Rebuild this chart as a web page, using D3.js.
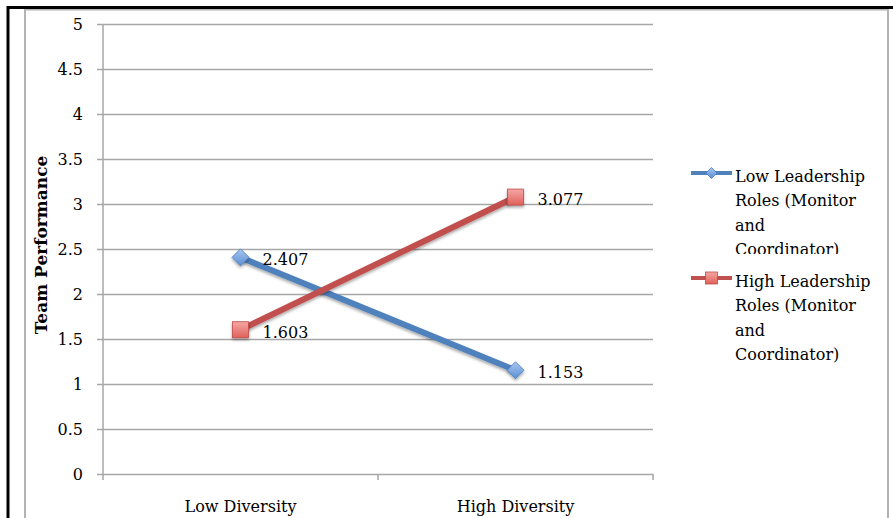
<!DOCTYPE html>
<html>
<head>
<meta charset="utf-8">
<script src="https://cdn.jsdelivr.net/npm/d3@7"></script>
<style>
  html, body { margin: 0; padding: 0; background: #fff; }
  svg { display: block; }
  text { font-family: "DejaVu Serif", "Liberation Serif", serif; fill: #000; }
</style>
</head>
<body>
<svg id="chart" width="893" height="518"></svg>
<script>
// Data
const categories = ["Low Diversity", "High Diversity"];
const lowLeadership = [2.407, 1.153];
const highLeadership = [1.603, 3.077];
const seriesNames = [
  ["Low Leadership", "Roles (Monitor", "and", "Coordinator)"],
  ["High Leadership", "Roles (Monitor", "and", "Coordinator)"]
];
const yTicks = [0, 0.5, 1, 1.5, 2, 2.5, 3, 3.5, 4, 4.5, 5];
const yTitle = "Team Performance";

const svg = d3.select("#chart");
const W = 893, H = 518;

// Frame
svg.append("rect").attr("x", 25).attr("y", 9.5).attr("width", 863).attr("height", 520)
  .attr("fill", "#fff").attr("stroke", "#b3b3b3").attr("stroke-width", 2);
svg.append("line").attr("x1", 7).attr("x2", W).attr("y1", 7.5).attr("y2", 7.5)
  .attr("stroke", "#000").attr("stroke-width", 3);
svg.append("line").attr("x1", 8).attr("x2", 8).attr("y1", 6).attr("y2", H)
  .attr("stroke", "#000").attr("stroke-width", 3);

// Scales
const plot = { left: 103, right: 653, top: 24, bottom: 474 };
const x = d3.scaleBand().domain(categories).range([plot.left, plot.right]);
const y = d3.scaleLinear().domain([0, 5]).range([plot.bottom, plot.top]);
const cx = c => x(c) + x.bandwidth() / 2;

// Gridlines + y axis
const yAxis = d3.axisLeft(y).tickValues(yTicks).tickSize(plot.right - plot.left + 6)
  .tickFormat(d3.format("~g")).tickPadding(14);
const gy = svg.append("g").attr("transform", `translate(${plot.right},0)`).call(yAxis);
gy.select(".domain").remove();
gy.selectAll(".tick line").attr("stroke", "#a6a6a6").attr("stroke-width", 1.5);
gy.selectAll(".tick text").attr("font-size", 16).attr("font-family", "DejaVu Serif").attr("fill", "#000");
svg.append("line").attr("x1", plot.left).attr("x2", plot.left).attr("y1", plot.top).attr("y2", plot.bottom)
  .attr("stroke", "#a6a6a6").attr("stroke-width", 1.5);

// x axis
const xAxis = d3.axisBottom(x).tickSize(0).tickPadding(27);
const gx = svg.append("g").attr("transform", `translate(0,${plot.bottom})`).call(xAxis);
gx.select(".domain").remove();
gx.selectAll(".tick text").attr("font-size", 16).attr("font-family", "DejaVu Serif").attr("fill", "#000");
const bounds = [plot.left, ...categories.map(c => x(c) + x.bandwidth())];
svg.append("g").selectAll("line").data(bounds).join("line")
  .attr("x1", d => d).attr("x2", d => d)
  .attr("y1", plot.bottom).attr("y2", plot.bottom + 6)
  .attr("stroke", "#a6a6a6").attr("stroke-width", 1.5);

// Y title
svg.append("text")
  .attr("transform", `translate(47,245) rotate(-90)`)
  .attr("text-anchor", "middle").attr("font-size", 17).attr("font-weight", "bold")
  .text(yTitle);

// Definitions: gradients and shadow
const defs = svg.append("defs");
const blueGrad = defs.append("linearGradient").attr("id", "blueFill").attr("x1", 0).attr("y1", 0).attr("x2", 0).attr("y2", 1);
blueGrad.append("stop").attr("offset", "0%").attr("stop-color", "#a9c6ee");
blueGrad.append("stop").attr("offset", "100%").attr("stop-color", "#5a8fd6");
const redGrad = defs.append("linearGradient").attr("id", "redFill").attr("x1", 0).attr("y1", 0).attr("x2", 0).attr("y2", 1);
redGrad.append("stop").attr("offset", "0%").attr("stop-color", "#f5a8a5");
redGrad.append("stop").attr("offset", "100%").attr("stop-color", "#e0605b");
const sh = defs.append("filter").attr("id", "shadow").attr("x", "-50%").attr("y", "-50%").attr("width", "200%").attr("height", "200%");
sh.append("feDropShadow").attr("dx", 0).attr("dy", 2).attr("stdDeviation", 1.6).attr("flood-color", "#000").attr("flood-opacity", 0.35);

const series = [
  { values: lowLeadership, color: "#4f81bd", fill: "url(#blueFill)", stroke: "#4a7ebb", shape: "diamond" },
  { values: highLeadership, color: "#c0504d", fill: "url(#redFill)", stroke: "#be4b48", shape: "square" }
];

const line = d3.line().x((d, i) => cx(categories[i])).y(d => y(d));

function marker(g, shape, size) {
  if (shape === "diamond") {
    g.append("path").attr("d", `M0,${-size}L${size},0L0,${size}L${-size},0Z`);
  } else {
    g.append("rect").attr("x", -size).attr("y", -size).attr("width", size * 2).attr("height", size * 2);
  }
}

series.forEach(s => {
  svg.append("path").datum(s.values).attr("d", line)
    .attr("fill", "none").attr("stroke", s.color).attr("stroke-width", 6)
    .attr("filter", "url(#shadow)");
});
series.forEach(s => {
  s.values.forEach((v, i) => {
    const g = svg.append("g").attr("transform", `translate(${cx(categories[i])},${y(v)})`)
      .attr("filter", "url(#shadow)");
    marker(g, s.shape, s.shape === "diamond" ? 8.5 : 8);
    g.selectAll("path,rect").attr("fill", s.fill).attr("stroke", s.stroke).attr("stroke-width", 0.8);
    svg.append("text").attr("x", cx(categories[i]) + 22).attr("y", y(v) + 8)
      .attr("font-size", 16).text(d3.format(".3f")(v));
  });
});

// Legend
const legendY = [173, 278];
const clip = defs.append("clipPath").attr("id", "legClip");
clip.append("rect").attr("x", 730).attr("y", 168).attr("width", 160).attr("height", 86);
series.forEach((s, k) => {
  const ly = legendY[k];
  svg.append("line").attr("x1", 691).attr("x2", 732).attr("y1", ly).attr("y2", ly)
    .attr("stroke", s.color).attr("stroke-width", 4);
  const g = svg.append("g").attr("transform", `translate(711.5,${ly})`);
  marker(g, s.shape, s.shape === "diamond" ? 5.5 : 6);
  g.selectAll("path,rect").attr("fill", s.fill).attr("stroke", s.stroke).attr("stroke-width", 0.8);
  const t = svg.append("text").attr("x", 735).attr("y", ly + 9).attr("font-size", 16);
  if (k === 0) t.attr("clip-path", "url(#legClip)");
  seriesNames[k].forEach((ln, j) => {
    t.append("tspan").attr("x", 735).attr("dy", j === 0 ? 0 : 24.3).text(ln);
  });
});
</script>
</body>
</html>
